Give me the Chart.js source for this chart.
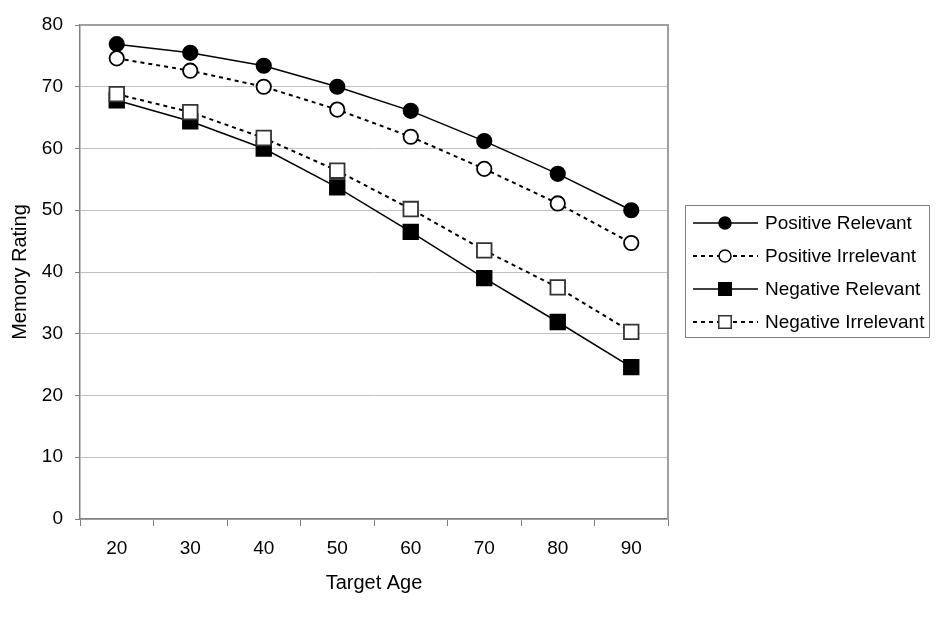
<!DOCTYPE html>
<html>
<head>
<meta charset="utf-8">
<script src="https://cdn.jsdelivr.net/npm/chart.js@4/dist/chart.umd.min.js"></script>
<style>
  body { margin: 0; background: #fff; }
  canvas { display: block; }
</style>
</head>
<body>
<canvas id="chart" width="942" height="622"></canvas>
<script>
const ages = ['20', '30', '40', '50', '60', '70', '80', '90'];
const posRelevant = [76.9, 75.5, 73.4, 70.0, 66.1, 61.2, 55.9, 50.0];
const posIrrelevant = [74.6, 72.6, 70.0, 66.3, 61.9, 56.7, 51.1, 44.7];
const negRelevant = [67.8, 64.4, 60.0, 53.7, 46.5, 39.0, 31.9, 24.6];
const negIrrelevant = [68.8, 65.9, 61.7, 56.4, 50.2, 43.5, 37.5, 30.3];
const seriesNames = ['Positive Relevant', 'Positive Irrelevant', 'Negative Relevant', 'Negative Irrelevant'];

const FONT = 'Liberation Sans, Arial, sans-serif';

function series(label, data, style, filled, dashed, order) {
    return {
        label: label,
        data: data,
        borderColor: '#000',
        borderWidth: dashed ? 2 : 1.5,
        borderDash: dashed ? [4, 4] : [],
        pointStyle: style,
        pointRadius: style === 'rect' ? 10.3 : 7.2,
        pointHoverRadius: style === 'rect' ? 10.3 : 7.2,
        pointBackgroundColor: filled ? '#000' : '#fff',
        pointBorderColor: filled ? '#000' : (style === 'rect' ? '#333' : '#000'),
        pointBorderWidth: 1.8,
        tension: 0,
        order: order
    };
}

// legend drawn on the canvas: line + marker + text, in a grey box
const boxLegend = {
    id: 'boxLegend',
    afterDraw(chart) {
        const ctx = chart.ctx;
        const x0 = 685, y0 = 205, w = 244, h = 132;
        ctx.save();
        ctx.strokeStyle = '#808080';
        ctx.lineWidth = 1;
        ctx.strokeRect(x0 + 0.5, y0 + 0.5, w, h);
        const rowsY = [223, 256, 289, 322];
        seriesNames.forEach((name, i) => {
            const ds = chart.data.datasets[i];
            const y = rowsY[i];
            ctx.strokeStyle = '#000';
            ctx.lineWidth = ds.borderWidth;
            ctx.setLineDash(ds.borderDash);
            ctx.beginPath();
            ctx.moveTo(693, y);
            ctx.lineTo(758, y);
            ctx.stroke();
            ctx.setLineDash([]);
            ctx.fillStyle = ds.pointBackgroundColor;
            ctx.strokeStyle = ds.pointBorderColor;
            ctx.lineWidth = 1.5;
            Chart.helpers.drawPoint(ctx, {
                pointStyle: ds.pointStyle,
                radius: ds.pointStyle === 'rect' ? 8.8 : 6,
                rotation: 0,
                borderWidth: 1.5
            }, 725, y);
            ctx.fillStyle = '#000';
            ctx.font = '19px ' + FONT;
            ctx.textBaseline = 'middle';
            ctx.textAlign = 'left';
            ctx.fillText(name, 765, y + 1);
        });
        ctx.restore();
    }
};

// grey frame on the top and right of the plot area
const plotFrame = {
    id: 'plotFrame',
    beforeDatasetsDraw(chart) {
        const a = chart.chartArea;
        const ctx = chart.ctx;
        ctx.save();
        ctx.strokeStyle = '#a0a0a0';
        ctx.lineWidth = 2;
        ctx.beginPath();
        ctx.moveTo(a.left, a.top);
        ctx.lineTo(a.right, a.top);
        ctx.lineTo(a.right, a.bottom);
        ctx.stroke();
        ctx.restore();
    }
};

new Chart(document.getElementById('chart'), {
    type: 'line',
    data: {
        labels: ages,
        datasets: [
            series(seriesNames[0], posRelevant, 'circle', true, false, 3),
            series(seriesNames[1], posIrrelevant, 'circle', false, true, 2),
            series(seriesNames[2], negRelevant, 'rect', true, false, 1),
            series(seriesNames[3], negIrrelevant, 'rect', false, true, 0)
        ]
    },
    options: {
        responsive: false,
        animation: false,
        layout: { padding: { left: 0, top: 25, right: 274, bottom: 0 } },
        plugins: {
            legend: { display: false },
            tooltip: { enabled: false }
        },
        scales: {
            x: {
                offset: true,
                grid: {
                    offset: true,
                    drawOnChartArea: false,
                    drawTicks: true,
                    tickLength: 7,
                    color: '#808080'
                },
                border: { color: '#808080', width: 1.5 },
                ticks: { color: '#000', padding: 11, font: { family: FONT, size: 19 } },
                title: {
                    display: true,
                    text: 'Target Age',
                    color: '#000',
                    font: { family: FONT, size: 20 },
                    padding: { top: 0, bottom: 27 }
                },
                afterFit(scale) { scale.height = 103; }
            },
            y: {
                min: 0,
                max: 80,
                ticks: { stepSize: 10, color: '#000', padding: 12, font: { family: FONT, size: 19 } },
                grid: { color: '#c0c0c0', lineWidth: 1, tickLength: 5, tickColor: '#808080' },
                border: { color: '#808080', width: 1.5 },
                title: {
                    display: true,
                    text: 'Memory Rating',
                    color: '#000',
                    font: { family: FONT, size: 20 },
                    padding: { top: 8, bottom: 0 }
                },
                afterFit(scale) { scale.width = 80; }
            }
        }
    },
    plugins: [plotFrame, boxLegend]
});
</script>
</body>
</html>
